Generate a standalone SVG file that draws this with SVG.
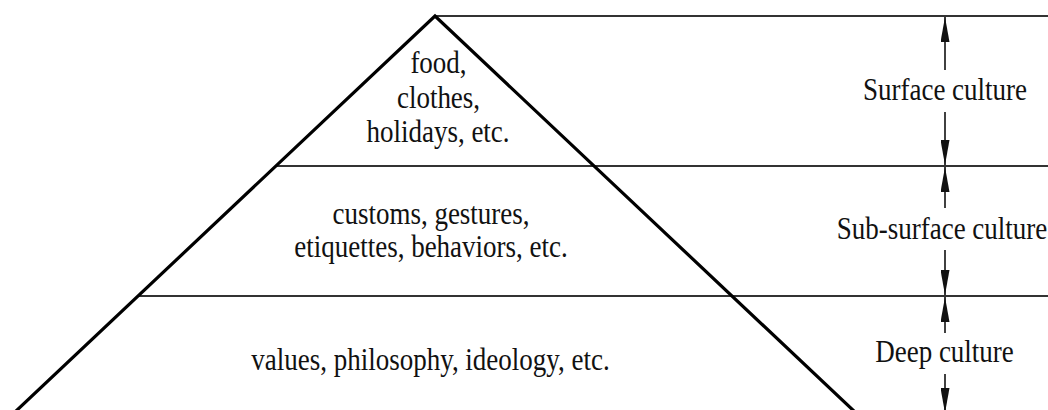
<svg xmlns="http://www.w3.org/2000/svg" width="1048" height="410" viewBox="0 0 1048 410">
  <style>
    .t { font-family: "Liberation Serif", "Times New Roman", serif; font-size: 27px; fill: #111; text-anchor: middle; }
    .pyr { fill: none; stroke: #000; stroke-width: 3.2; stroke-linejoin: miter; }
    .hl { stroke: #333; stroke-width: 2; }
    .ar { stroke: #111; stroke-width: 1.6; fill: none; }
  </style>
  <defs>
    <marker id="ah" viewBox="0 0 25 9" refX="25" refY="4.5" markerWidth="25" markerHeight="9" markerUnits="userSpaceOnUse" orient="auto">
      <path d="M0,0 L25,4.5 L0,9 Z" fill="#111"/>
    </marker>
  </defs>
  <rect width="1048" height="410" fill="#fff"/>

  <g id="connectors">
    <line class="hl" x1="435" y1="16" x2="1048" y2="16"/>
    <line class="hl" x1="275" y1="166" x2="1048" y2="166"/>
    <line class="hl" x1="137" y1="296" x2="1048" y2="296"/>
    <line class="ar" x1="945" y1="70" x2="945" y2="17" marker-end="url(#ah)"/>
    <line class="ar" x1="945" y1="112" x2="945" y2="165" marker-end="url(#ah)"/>
    <line class="ar" x1="945" y1="208" x2="945" y2="167" marker-end="url(#ah)"/>
    <line class="ar" x1="945" y1="250" x2="945" y2="295" marker-end="url(#ah)"/>
    <line class="ar" x1="945" y1="333" x2="945" y2="297" marker-end="url(#ah)"/>
    <line class="ar" x1="945" y1="374" x2="945" y2="413" marker-end="url(#ah)"/>
  </g>

  <g id="pyramid">
    <path class="pyr" d="M15,412 L435,16 L855,412"/>
  </g>

  <g id="surface-layer">
    <text class="t" transform="translate(438.5,73) scale(1,1.185)">food,</text>
    <text class="t" transform="translate(438.5,107.5) scale(1,1.185)">clothes,</text>
    <text class="t" transform="translate(438,142) scale(1,1.185)">holidays, etc.</text>
  </g>

  <g id="subsurface-layer">
    <text class="t" transform="translate(431,223.5) scale(1,1.185)">customs, gestures,</text>
    <text class="t" transform="translate(431,256.5) scale(1,1.185)">etiquettes, behaviors, etc.</text>
  </g>

  <g id="deep-layer">
    <text class="t" transform="translate(430.5,370) scale(1,1.185)">values, philosophy, ideology, etc.</text>
  </g>

  <g id="surface-culture">
    <text class="t" transform="translate(945,99.5) scale(1,1.185)">Surface culture</text>
  </g>
  <g id="subsurface-culture">
    <text class="t" transform="translate(942,238.5) scale(1,1.185)">Sub-surface culture</text>
  </g>
  <g id="deep-culture">
    <text class="t" transform="translate(944.5,362) scale(1,1.185)">Deep culture</text>
  </g>
</svg>
